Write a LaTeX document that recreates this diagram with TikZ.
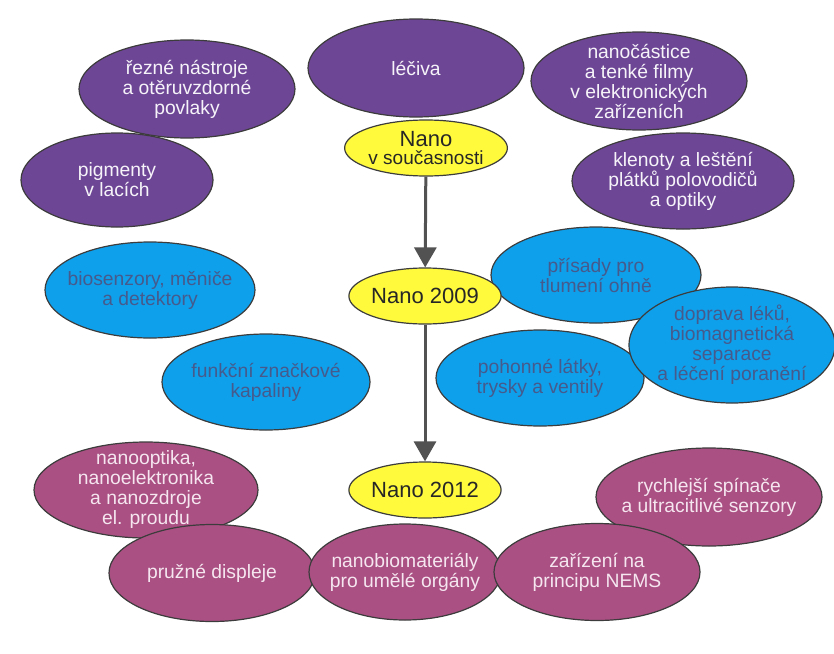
\documentclass[tikz,border=0pt]{standalone}
\usepackage{fontspec}
\setmainfont{Liberation Sans}
\usetikzlibrary{shapes.geometric, arrows.meta, positioning}

\definecolor{nanopurple}{RGB}{110,70,150}
\definecolor{nanoblue}{RGB}{15,160,235}
\definecolor{nanopink}{RGB}{170,80,130}
\definecolor{nanoyellow}{RGB}{255,250,60}
\definecolor{bluetext}{RGB}{70,90,140}
\definecolor{pinktext}{RGB}{245,230,240}
\definecolor{edgegray}{RGB}{60,60,60}

\begin{document}
\begin{tikzpicture}[
    x=1pt, y=-1pt,
    bubble/.style={ellipse, draw=edgegray, line width=1.2pt, inner xsep=-30pt, inner ysep=-25pt,
      align=center, font=\fontsize{19.3}{20}\selectfont},
    today/.style={bubble, fill=nanopurple, text=white!94!nanopurple, minimum width=216pt, minimum height=98pt},
    near/.style={bubble, fill=nanoblue, text=bluetext, minimum width=208pt, minimum height=96pt},
    future/.style={bubble, fill=nanopink, text=pinktext, minimum width=206pt, minimum height=97pt},
    era/.style={ellipse, draw=edgegray, line width=1.2pt, fill=nanoyellow, text=black!85,
      inner sep=0pt, align=center, minimum width=145pt, minimum height=56pt,
      font=\fontsize{22}{22}\selectfont},
    line/.style={draw, line width=3pt, draw=black!68, -{Triangle[width=22pt, length=20pt]}}
]
\useasboundingbox (0,0) rectangle (834,653);

% Nano today
\node [today, minimum width=192pt, minimum height=94pt] (pigments) at (117,180) {pigmenty\\v lacích};
\node [today] (tools) at (187,89) {řezné nástroje\\a otěruvzdorné\\povlaky};
\node [today] (drugs) at (416,68) {léčiva};
\node [today] (films) at (639,81) {nanočástice\\a tenké filmy\\v elektronických\\zařízeních};
\node [today, minimum width=222pt, minimum height=96pt] (gems) at (683,181) {klenoty a leštění\\plátků polovodičů\\a optiky};
\node [era, font=\fontsize{19}{18}\selectfont] (now) at (426,148) {{\fontsize{22}{18}\selectfont Nano}\\v současnosti};

% Nano 2009
\node [near, minimum width=210pt] (sensors) at (150,290) {biosenzory, měniče\\a detektory};
\node [near] (fluids) at (266,382) {funkční značkové\\kapaliny};
\node [near, minimum width=210pt] (retard) at (596,275) {přísady pro\\tlumení ohně};
\node [near] (valves) at (540,378) {pohonné látky,\\trysky a ventily};
\node [near, minimum width=206pt, minimum height=116pt] (delivery) at (732,345) {doprava léků,\\biomagnetická\\separace\\a léčení poranění};
\node [era] (y2009) at (425,296) {Nano 2009};

% Nano 2012
\node [future, minimum width=224pt, minimum height=96pt] (optics) at (146,490) {nanooptika,\\nanoelektronika\\a nanozdroje\\el. proudu};
\node [future] (displays) at (212,573) {pružné displeje};
\node [future, minimum width=192pt, minimum height=96pt] (organs) at (405,572) {nanobiomateriály\\pro umělé orgány};
\node [future, minimum width=226pt, minimum height=98pt] (switches) at (709,497) {rychlejší spínače\\a ultracitlivé senzory};
\node [future] (nems) at (597,572) {zařízení na\\principu NEMS};
\node [era] (y2012) at (425,490) {Nano 2012};

% Lines
\path [line] (now) -- (y2009);
\path [line] (y2009) -- (y2012);

\end{tikzpicture}
\end{document}
